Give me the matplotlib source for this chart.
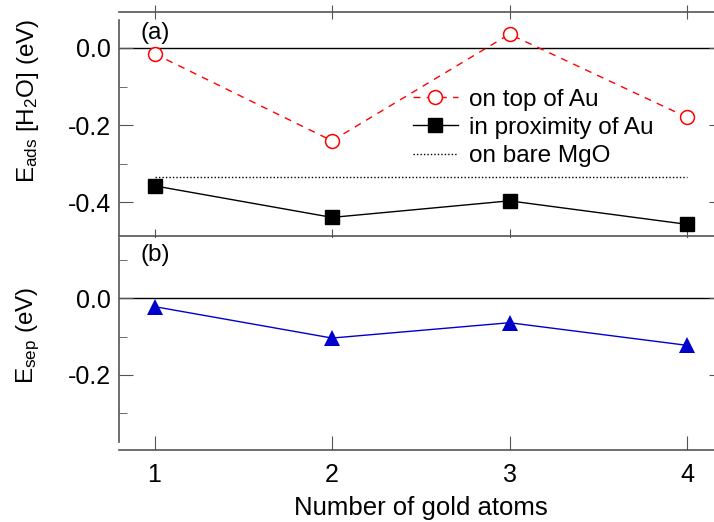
"""
plot.py

Water adsorption energy on Au clusters supported on MgO.
(a) E_ads of H2O vs. number of gold atoms
(b) E_sep vs. number of gold atoms
"""

import matplotlib
matplotlib.use("Agg")
import matplotlib.pyplot as plt
from matplotlib.ticker import MultipleLocator

# ==========================================================
# Data
# ==========================================================

n_atoms = [1, 2, 3, 4]

e_on_top = [-0.015, -0.241, 0.036, -0.180]
e_proximity = [-0.358, -0.440, -0.397, -0.458]
e_bare_mgo = -0.334

e_sep = [-0.022, -0.104, -0.064, -0.123]

x_ticks = [1, 2, 3, 4]

# ==========================================================
# Style
# ==========================================================

plt.rcParams["font.family"] = ["Liberation Sans", "DejaVu Sans"]
plt.rcParams["mathtext.fontset"] = "custom"
plt.rcParams["mathtext.rm"] = "Liberation Sans"
plt.rcParams["mathtext.it"] = "Liberation Sans:italic"

SPINE = "#555555"
FS_TICK = 18
FS_LABEL = 18.5
FS_TEXT = 17.5

fig = plt.figure(figsize=(7.14, 5.22), dpi=100)

ax_a = fig.add_axes([0.16667, 0.54885, 0.84524, 0.42816])
ax_b = fig.add_axes([0.16667, 0.13793, 0.84524, 0.40613])

# ==========================================================
# Panel (a)
# ==========================================================

ax_a.axhline(0, color="black", linewidth=1.0, zorder=1)

ax_a.plot(
    n_atoms, e_on_top,
    color="red", linestyle=(0, (5, 4.5)), linewidth=1.0,
    marker="o", markersize=10, markerfacecolor="white",
    markeredgecolor="red", markeredgewidth=1.1,
    label="on top of Au", zorder=3
)

ax_a.plot(
    n_atoms, e_proximity,
    color="black", linewidth=1.0,
    marker="s", markersize=10,
    label="in proximity of Au", zorder=3
)

ax_a.plot(
    [n_atoms[0], n_atoms[-1]], [e_bare_mgo, e_bare_mgo],
    color="black", linestyle=(0, (1, 1.5)), linewidth=1.0,
    label="on bare MgO", zorder=2
)

ax_a.set_xlim(0.8, 4.2)
ax_a.set_ylim(-0.487, 0.0935)
ax_a.spines["left"].set_bounds(-0.487, 0.073)

ax_a.set_yticks([0.0, -0.2, -0.4])
ax_a.set_yticklabels(["0.0", "-0.2", "-0.4"])
ax_a.yaxis.set_minor_locator(MultipleLocator(0.1))
ax_a.set_xticks(x_ticks)

ax_a.tick_params(axis="x", which="major", direction="inout", length=10,
                 top=True, bottom=True, labelbottom=False, color=SPINE)
ax_a.tick_params(axis="y", which="major", direction="in", length=10,
                 left=True, right=True, pad=6, color=SPINE,
                 labelsize=FS_TICK)
ax_a.tick_params(axis="y", which="minor", direction="in", length=6,
                 left=True, right=True, color=SPINE)

for side in ["left", "top", "bottom", "right"]:
    ax_a.spines[side].set_color(SPINE)
    ax_a.spines[side].set_linewidth(1.2)

ax_a.text(0.92, 0.040, "(a)", fontsize=FS_TEXT, va="center", ha="left")

leg = ax_a.legend(
    loc="center left",
    bbox_to_anchor=(413 / 714, 1 - 128 / 522),
    bbox_transform=fig.transFigure,
    frameon=False,
    fontsize=FS_TEXT,
    handlelength=1.85,
    handletextpad=0.45,
    labelspacing=0.25,
    borderpad=0,
    borderaxespad=0,
)

# ==========================================================
# Panel (b)
# ==========================================================

ax_b.axhline(0, color="black", linewidth=1.0, zorder=1)

ax_b.plot(
    n_atoms, e_sep,
    color="#0000cc", linewidth=1.0,
    marker="^", markersize=11.5, markeredgewidth=0,
    zorder=3
)

ax_b.set_xlim(0.8, 4.2)
ax_b.set_ylim(-0.396, 0.157)
ax_b.spines["left"].set_bounds(-0.375, 0.157)
ax_b.spines["top"].set_visible(False)

ax_b.set_yticks([0.0, -0.2])
ax_b.set_yticklabels(["0.0", "-0.2"])
ax_b.yaxis.set_minor_locator(MultipleLocator(0.1))
ax_b.set_xticks(x_ticks)
ax_b.set_xticklabels([str(v) for v in x_ticks])

ax_b.tick_params(axis="x", which="major", direction="in", length=10,
                 top=False, bottom=True, pad=9, color=SPINE,
                 labelsize=FS_TICK)
ax_b.tick_params(axis="y", which="major", direction="in", length=10,
                 left=True, right=True, pad=6, color=SPINE,
                 labelsize=FS_TICK)
ax_b.tick_params(axis="y", which="minor", direction="in", length=6,
                 left=True, right=True, color=SPINE)

for side in ["left", "bottom", "right"]:
    ax_b.spines[side].set_color(SPINE)
    ax_b.spines[side].set_linewidth(1.2)

ax_b.text(0.92, 0.113, "(b)", fontsize=FS_TEXT, va="center", ha="left")

ax_b.set_xlabel("Number of gold atoms", fontsize=FS_LABEL, labelpad=7)

# ==========================================================
# Y labels
# ==========================================================

fig.text(28 / 714, 1 - 101 / 522,
         r"E$_{\mathrm{ads}}$ [H$_{\mathrm{2}}$O] (eV)",
         rotation=90, ha="center", va="center", fontsize=FS_TEXT)

fig.text(28 / 714, 1 - 335 / 522,
         r"E$_{\mathrm{sep}}$ (eV)",
         rotation=90, ha="center", va="center", fontsize=FS_TEXT)

# ==========================================================
# Save
# ==========================================================

fig.savefig("out.png", dpi=100)
plt.close(fig)
